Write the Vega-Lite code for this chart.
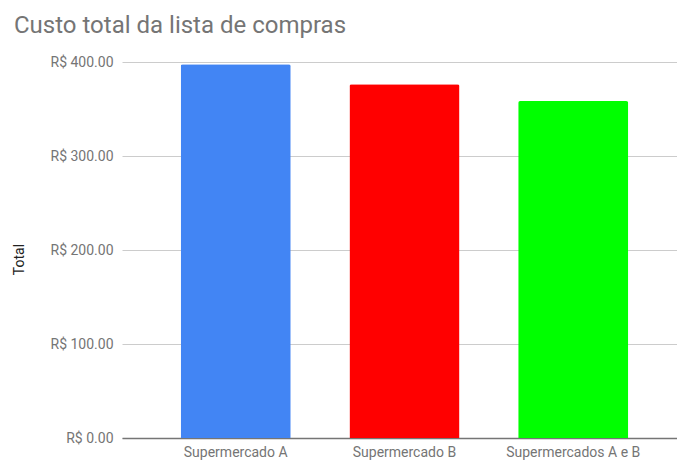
{
  "$schema": "https://vega.github.io/schema/vega-lite/v6.json",
  "width": 555,
  "height": 376,
  "autosize": {"type": "none"},
  "padding": {"left": 122, "top": 62, "right": 0, "bottom": 23},
  "background": "white",
  "title": {
    "text": "Custo total da lista de compras",
    "anchor": "start",
    "frame": "group",
    "font": "Roboto",
    "fontSize": 24,
    "fontWeight": "normal",
    "color": "#757575",
    "dx": -108,
    "offset": 17
  },
  "data": {
    "values": [
      {"mercado": "Supermercado A", "total": 397.5},
      {"mercado": "Supermercado B", "total": 376.2},
      {"mercado": "Supermercados A e B", "total": 358.5}
    ]
  },
  "mark": {"type": "bar", "cornerRadiusTopLeft": 2, "cornerRadiusTopRight": 2},
  "encoding": {
    "x": {
      "field": "mercado",
      "type": "nominal",
      "sort": null,
      "scale": {"paddingInner": 0.348, "paddingOuter": 0.3185, "align": 0.546},
      "axis": {
        "title": null,
        "labelAngle": 0,
        "labelFont": "Roboto",
        "labelFontSize": 14,
        "labelColor": "#757575",
        "labelPadding": 7,
        "ticks": false,
        "domainColor": "#757575",
        "domainWidth": 1.5,
        "grid": false
      }
    },
    "y": {
      "field": "total",
      "type": "quantitative",
      "scale": {"domain": [0, 400], "nice": false},
      "axis": {
        "title": "Total",
        "titleFont": "Roboto",
        "titleFontSize": 14,
        "titleFontWeight": "normal",
        "titleColor": "#222222",
        "titleAngle": -90,
        "titleX": -103,
        "titleY": 197,
        "titleBaseline": "middle",
        "titleAlign": "center",
        "values": [0, 100, 200, 300, 400],
        "labelExpr": "'R$ ' + format(datum.value, '.2f')",
        "labelFont": "Roboto",
        "labelFontSize": 14,
        "labelColor": "#757575",
        "labelPadding": 9,
        "ticks": false,
        "domain": false,
        "grid": true,
        "gridColor": "#cccccc",
        "gridWidth": 1
      }
    },
    "color": {
      "field": "mercado",
      "type": "nominal",
      "sort": null,
      "scale": {"range": ["#4285F4", "#FF0000", "#00FF00"]},
      "legend": null
    }
  },
  "config": {"view": {"stroke": null}}
}
